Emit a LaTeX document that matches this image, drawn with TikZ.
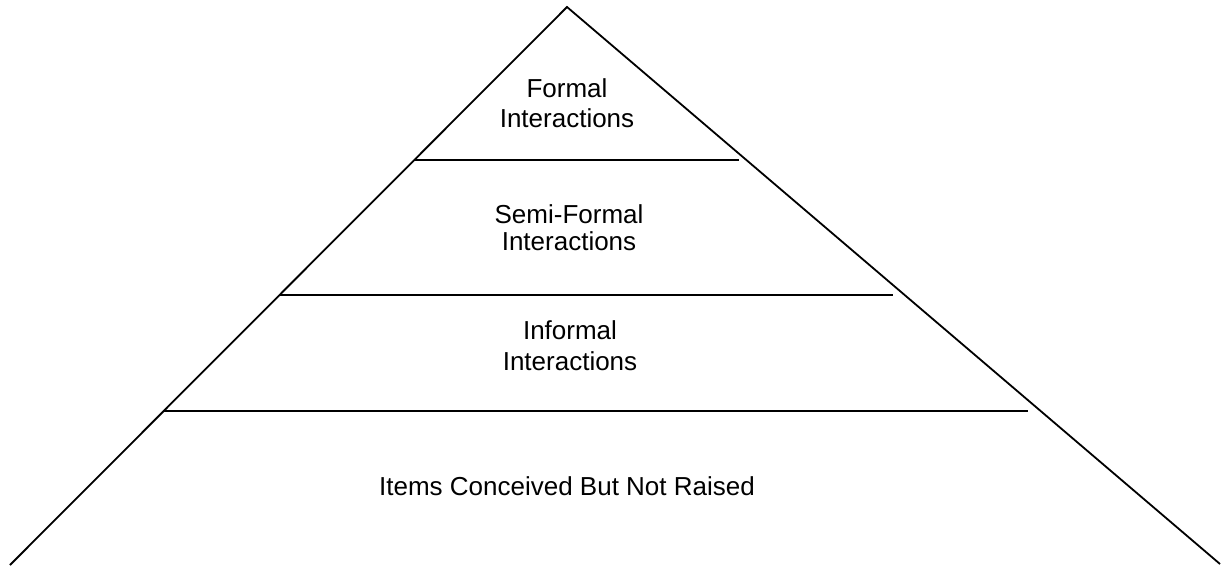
\documentclass[tikz,border=0pt]{standalone}
\usepackage{fontspec}
\setmainfont{Liberation Sans}
\begin{document}
\begin{tikzpicture}[x=1pt,y=-1pt,
  edge/.style={draw=black,line width=1.8pt},
  tier/.style={draw=black,line width=1.8pt},
  lbl/.style={align=center,inner sep=0pt,text=black}]
\useasboundingbox (0,0) rectangle (1222,570);
\coordinate (apex) at (567,7);
\coordinate (bl) at (10,565);
\coordinate (br) at (1220,564);
\draw[edge] (bl) -- (apex) -- (br);
\coordinate (l1a) at (414,160); \coordinate (l1b) at (739,160);
\coordinate (l2a) at (279,295); \coordinate (l2b) at (893,295);
\coordinate (l3a) at (163,411); \coordinate (l3b) at (1028,411);
\draw[tier] (l1a) -- (l1b);
\draw[tier] (l2a) -- (l2b);
\draw[tier] (l3a) -- (l3b);
\node[lbl,font=\fontsize{26}{30}\selectfont] (t1) at (567,103) {Formal\\Interactions};
\node[lbl,font=\fontsize{26}{27}\selectfont] (t2) at (569,228) {Semi-Formal\\Interactions};
\node[lbl,font=\fontsize{26}{31}\selectfont] (t3) at (570,346) {Informal\\Interactions};
\node[lbl,font=\fontsize{26}{30}\selectfont,anchor=base] (t4) at (567,495) {Items Conceived But Not Raised};
\end{tikzpicture}
\end{document}
